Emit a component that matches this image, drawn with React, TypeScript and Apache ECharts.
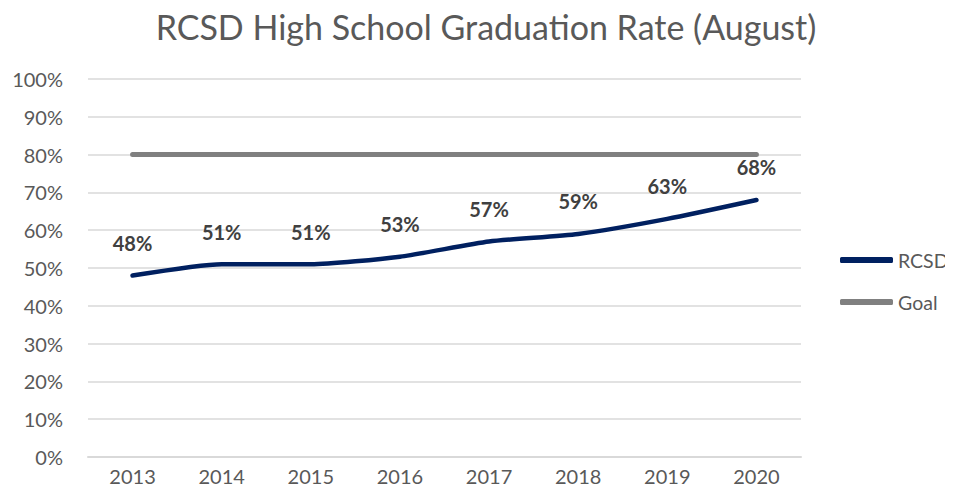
import React, { useEffect, useRef } from "react";
import * as echarts from "echarts";

const years = ["2013", "2014", "2015", "2016", "2017", "2018", "2019", "2020"];
const rcsd = [48, 51, 51, 53, 57, 59, 63, 68];
const goal = [80, 80, 80, 80, 80, 80, 80, 80];
const titleText = "RCSD High School Graduation Rate (August)";
const FONT = "Lato, 'Open Sans', sans-serif";

export default function App() {
  const ref = useRef<HTMLDivElement>(null);
  useEffect(() => {
    const chart = echarts.init(ref.current!, null, { renderer: "svg" });
    chart.setOption({
      animation: false,
      textStyle: { fontFamily: FONT },
      graphic: [
        {
          type: "text",
          x: 486,
          y: 26,
          style: {
            text: titleText,
            fontSize: 34,
            fontFamily: FONT,
            fill: "#595959",
            textAlign: "center",
            textVerticalAlign: "middle",
          },
        },
      ],
      grid: { left: 88, right: 152, top: 79, bottom: 42, containLabel: false },
      legend: {
        orient: "vertical",
        left: 840,
        top: 250,
        padding: 0,
        itemWidth: 53,
        itemHeight: 6,
        itemGap: 22,
        textStyle: { fontSize: 19.5, color: "#595959", fontFamily: FONT },
        data: [
          { name: "RCSD", icon: "roundRect", itemStyle: { color: "#002060" } },
          { name: "Goal", icon: "roundRect", itemStyle: { color: "#808080" } },
        ],
      },
      xAxis: {
        type: "category",
        data: years,
        boundaryGap: true,
        axisLine: { lineStyle: { color: "#d9d9d9", width: 2 } },
        axisTick: { show: false },
        axisLabel: { fontSize: 20, color: "#595959", margin: 9, fontFamily: FONT },
      },
      yAxis: {
        type: "value",
        min: 0,
        max: 100,
        interval: 10,
        axisLine: { show: false },
        axisTick: { show: false },
        splitLine: { lineStyle: { color: "#d9d9d9", width: 1.5 } },
        axisLabel: { fontSize: 20, color: "#595959", margin: 25, formatter: "{value}%", fontFamily: FONT },
      },
      series: [
        {
          name: "RCSD",
          type: "line",
          data: rcsd,
          smooth: 0.2,
          symbol: "circle",
          symbolSize: 1,
          showSymbol: true,
          lineStyle: { color: "#002060", width: 4.5, cap: "round" },
          itemStyle: { color: "#002060" },
          label: {
            show: true,
            position: "top",
            distance: 22,
            fontSize: 20,
            fontWeight: "bold",
            color: "#404040",
            fontFamily: FONT,
            formatter: "{c}%",
          },
          labelLayout: { hideOverlap: false },
          z: 3,
        },
        {
          name: "Goal",
          type: "line",
          data: goal,
          symbol: "none",
          lineStyle: { color: "#808080", width: 5, cap: "round" },
          itemStyle: { color: "#808080" },
          z: 2,
        },
      ],
    });
    return () => chart.dispose();
  }, []);
  return <div ref={ref} style={{ width: 953, height: 499, margin: -8 }} />;
}
